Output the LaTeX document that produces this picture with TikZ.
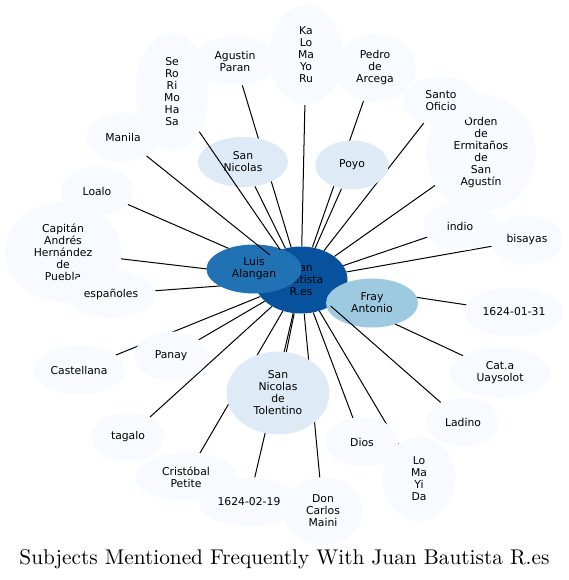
\documentclass[tikz,border=0pt]{standalone}
\usepackage{fontspec}
\usepackage{tikz}
\usetikzlibrary{shapes.geometric, backgrounds}

\newfontfamily\lblfont{DejaVu Sans}
\newfontfamily\titlefont{lmroman10-regular.otf}
\definecolor{tierA}{HTML}{08519C}
\definecolor{tierB}{HTML}{2171B5}
\definecolor{tierC}{HTML}{9ECAE1}
\definecolor{tierD}{HTML}{DEEBF7}
\definecolor{tierE}{HTML}{F7FBFF}

\begin{document}
\begin{tikzpicture}[
    x=1pt, y=-1pt,
    subj/.style={ellipse, fill=tierE, inner sep=0pt, minimum width=73pt,
      minimum height=49pt, align=center,
      font=\lblfont\fontsize{10.8pt}{12pt}\selectfont},
    link/.style={draw=black, line width=1pt}
  ]
  \useasboundingbox (0,0) rectangle (569,580);

  % Centre
  \node[subj, fill=tierA, minimum width=93pt, minimum height=67pt] (juan) at (301,280) {Juan\\Bautista\\R.es};
  \node[subj, fill=tierB, minimum width=95pt] (luis) at (254,269) {Luis\\Alangan};
  \node[subj, fill=tierC, minimum width=92pt] (fray) at (372,303) {Fray\\Antonio};

  % Second ring
  \node[subj, fill=tierD, minimum width=90pt, minimum height=50pt] (sannicolas) at (243,162) {San\\Nicolas};
  \node[subj, fill=tierD] (poyo) at (352,165) {Poyo};
  \node[subj, fill=tierD, minimum width=103pt, minimum height=83pt] (tolentino) at (278,393) {San\\Nicolas\\de\\Tolentino};

  % Top and left
  \node[subj, minimum width=85pt] (agustin) at (235,61) {Agustin\\Paran};
  \node[subj, minimum height=118pt] (sero) at (172,92) {Se\\Ro\\Ri\\Mo\\Ha\\Sa};
  \node[subj] (manila) at (123,137) {Manila};
  \node[subj] (loalo) at (97,191) {Loalo};
  \node[subj, minimum width=117pt, minimum height=100pt] (capitan) at (63,252) {Capitán\\Andrés\\Hernández\\de\\Puebla};
  \node[subj, minimum width=89pt, minimum height=48pt] (espanoles) at (111,294) {españoles};
  \node[subj] (panay) at (171,356) {Panay};
  \node[subj, minimum width=92pt] (castellana) at (79,370) {Castellana};

  % Bottom
  \node[subj] (tagalo) at (128,437) {tagalo};
  \node[subj, minimum width=101pt] (cristobal) at (186,477) {Cristóbal\\Petite};
  \node[subj, minimum width=100pt] (feb19) at (249,502) {1624-02-19};
  \node[subj, minimum width=80pt, minimum height=67pt] (doncarlos) at (323,511) {Don\\Carlos\\Maini};
  \node[subj] (dios) at (362,442) {Dios};
  \node[subj, minimum height=84pt] (lomayi) at (419,479) {Lo\\Ma\\Yi\\Da};
  \node[subj] (ladino) at (463,422) {Ladino};

  % Right and top
  \node[subj, minimum width=101pt, minimum height=50pt] (cata) at (500,373) {Cat.a\\Uaysolot};
  \node[subj, minimum width=99pt] (jan31) at (514,312) {1624-01-31};
  \node[subj] (indio) at (460,226) {indio};
  \node[subj] (bisayas) at (527,240) {bisayas};
  \node[subj, minimum width=110pt, minimum height=117pt] (orden) at (481,153) {Orden\\de\\Ermitaños\\de\\San\\Agustín};
  \node[subj, minimum width=76pt] (santo) at (441,101) {Santo\\Oficio};
  \node[subj, minimum width=82pt, minimum height=68pt] (pedro) at (375,68) {Pedro\\de\\Arcega};
  \node[subj, minimum height=100pt] (kalo) at (306,55) {Ka\\Lo\\Ma\\Yo\\Ru};

  % Edges under the nodes
  \begin{scope}[on background layer]
    \draw[link] (agustin) -- (juan);
    \draw[link] (sannicolas) -- (juan);
    \draw[link] (kalo) -- (juan);
    \draw[link] (pedro) -- (juan);
    \draw[link] (poyo) -- (juan);
    \draw[link] (santo) -- (juan);
    \draw[link] (orden) -- (juan);
    \draw[link] (indio) -- (juan);
    \draw[link] (bisayas) -- (juan);
    \draw[link] (jan31) -- (juan);
    \draw[link] (cata) -- (juan);
    \draw[link] (lomayi) -- (juan);
    \draw[link] (dios) -- (juan);
    \draw[link] (doncarlos) -- (juan);
    \draw[link] (feb19) -- (juan);
    \draw[link] (tolentino) -- (juan);
    \draw[link] (cristobal) -- (juan);
    \draw[link] (tagalo) -- (juan);
    \draw[link] (panay) -- (juan);
    \draw[link] (castellana) -- (juan);
    \draw[link] (espanoles) -- (juan);
    \draw[link] (capitan) -- (juan);
    \draw[link] (loalo) -- (juan);
  \end{scope}

  % Edges over the nodes
  \draw[link] (sero) -- (juan);
  \draw[link] (manila) -- (juan);
  \draw[link] (ladino) -- (juan);

  % Title
  \node[anchor=base, font=\titlefont\fontsize{21.3pt}{25pt}\selectfont] (title) at (284.5,564) {Subjects Mentioned Frequently With Juan Bautista R.es};
\end{tikzpicture}
\end{document}
